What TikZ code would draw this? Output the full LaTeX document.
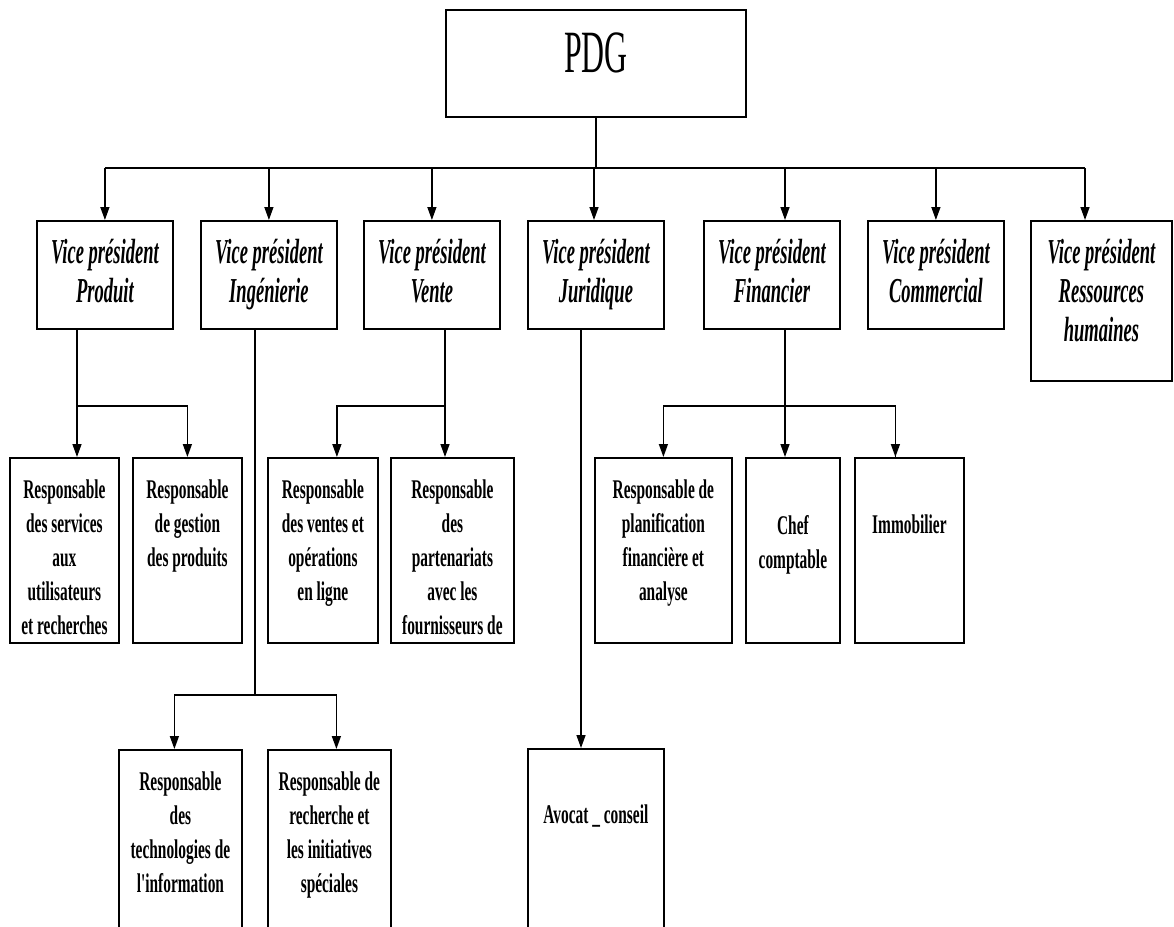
\documentclass[tikz,border=0pt]{standalone}
\usepackage{fontspec}
\setmainfont{Liberation Serif}
\newfontfamily\vpfont{Liberation Serif}[FakeStretch=0.53]
\newfontfamily\rfont{Liberation Serif}[FakeStretch=0.57]
\newfontfamily\pdgfont{Liberation Serif}[FakeStretch=0.53]
\usetikzlibrary{arrows.meta}
\tikzset{
  box/.style={draw=black, line width=1.8pt, anchor=north west, inner sep=0pt, fill=white},
  pdgtext/.style={anchor=north, inner sep=0pt, font={\pdgfont\fontsize{60}{66}\selectfont}},
  vptext/.style={anchor=north, align=center, inner sep=0pt, font={\vpfont\bfseries\itshape\fontsize{35}{39}\selectfont}},
  rtext/.style={anchor=north, align=center, inner sep=0pt, font={\rfont\bfseries\fontsize{27}{34}\selectfont}},
  link/.style={line width=1.4pt, draw=black},
  arr/.style={link, -{Triangle[width=9pt,length=13pt]}},
}
\begin{document}
\begin{tikzpicture}[x=1pt,y=-1pt]
\useasboundingbox (0,0) rectangle (1174,926);
\fill[white] (0,0) rectangle (1174,926);
\clip (0,0) rectangle (1174,926);

% top
\node[box, minimum width=300pt, minimum height=107pt] (pdg) at (445,9) {};
\node[pdgtext] (pdg-t) at ([yshift=-24pt]pdg.north) {PDG};

% vice presidents
\node[box, minimum width=136pt, minimum height=108pt] (vpA) at (36,220) {};
\node[box, minimum width=136pt, minimum height=108pt] (vpB) at (200,220) {};
\node[box, minimum width=136pt, minimum height=108pt] (vpC) at (363,220) {};
\node[box, minimum width=136pt, minimum height=108pt] (vpD) at (527,220) {};
\node[box, minimum width=136pt, minimum height=108pt] (vpE) at (703,220) {};
\node[box, minimum width=136pt, minimum height=108pt] (vpF) at (867,220) {};
\node[box, minimum width=141pt, minimum height=160pt] (vpG) at (1030,220) {};
\node[vptext] (vpA-t) at ([yshift=-19pt]vpA.north) {Vice président\\Produit};
\node[vptext] (vpB-t) at ([yshift=-19pt]vpB.north) {Vice président\\Ingénierie};
\node[vptext] (vpC-t) at ([yshift=-19pt]vpC.north) {Vice président\\Vente};
\node[vptext] (vpD-t) at ([yshift=-19pt]vpD.north) {Vice président\\Juridique};
\node[vptext] (vpE-t) at ([yshift=-19pt]vpE.north) {Vice président\\Financier};
\node[vptext] (vpF-t) at ([yshift=-19pt]vpF.north) {Vice président\\Commercial};
\node[vptext] (vpG-t) at ([yshift=-19pt]vpG.north) {Vice président\\Ressources\\humaines};

% second row
\node[box, minimum width=109pt, minimum height=185pt] (rA) at (9,457) {};
\node[box, minimum width=109pt, minimum height=185pt] (rB) at (132,457) {};
\node[box, minimum width=110pt, minimum height=185pt] (rC) at (267,457) {};
\node[box, minimum width=123pt, minimum height=185pt] (rD) at (390,457) {};
\node[box, minimum width=137pt, minimum height=185pt] (rE) at (594,457) {};
\node[box, minimum width=94pt, minimum height=185pt] (rF) at (745,457) {};
\node[box, minimum width=109pt, minimum height=185pt] (rG) at (854,457) {};
\node[rtext] (rA-t) at ([yshift=-23pt]rA.north) {Responsable\\des services\\aux\\utilisateurs\\et recherches};
\node[rtext] (rB-t) at ([yshift=-23pt]rB.north) {Responsable\\de gestion\\des produits};
\node[rtext] (rC-t) at ([yshift=-23pt]rC.north) {Responsable\\des ventes et\\opérations\\en ligne};
\node[rtext] (rD-t) at ([yshift=-23pt]rD.north) {Responsable\\des\\partenariats\\avec les\\fournisseurs de};
\node[rtext] (rE-t) at ([yshift=-23pt]rE.north) {Responsable de\\planification\\financière et\\analyse};
\node[rtext] (rF-t) at ([yshift=-58pt]rF.north) {Chef\\comptable};
\node[rtext] (rG-t) at ([yshift=-58pt]rG.north) {Immobilier};

% third row
\node[box, minimum width=123pt, minimum height=220pt] (tA) at (118,749) {};
\node[box, minimum width=123pt, minimum height=220pt] (tB) at (267,749) {};
\node[box, minimum width=136pt, minimum height=220pt] (av) at (527,748) {};
\node[rtext] (tA-t) at ([yshift=-23pt]tA.north) {Responsable\\des\\technologies de\\l'information};
\node[rtext] (tB-t) at ([yshift=-23pt]tB.north) {Responsable de\\recherche et\\les initiatives\\spéciales};
\node[rtext] (av-t) at ([yshift=-57pt]av.north) {Avocat \_ conseil};

% junctions
\coordinate (bus) at (594,168);
\coordinate (busR) at (1085,168);
\coordinate (jA) at (77,406);
\coordinate (jB) at (255,695);
\coordinate (jC) at (445,406);
\coordinate (jD) at (581,406);
\coordinate (jE) at (785,406);

% PDG to vice presidents
\draw[link] (pdg.south) -- (pdg.south |- bus);
\draw[link] (vpA.north |- bus) -- (busR);
\draw[arr] (vpA.north |- bus) -- (vpA.north);
\draw[arr] (vpB.north |- bus) -- (vpB.north);
\draw[arr] (vpC.north |- bus) -- (vpC.north);
\draw[arr] (bus) -- (vpD.north -| bus);
\draw[arr] (jE |- bus) -- (vpE.north -| jE);
\draw[arr] (vpF.north |- bus) -- (vpF.north);
\draw[arr] (busR) -- (vpG.north -| busR);

% Produit
\draw[link] (vpA.south -| jA) -- (jA);
\draw[arr] (jA) -- (rA.north -| jA);
\draw[arr] (jA) -| (rB.north);

% Vente
\draw[link] (vpC.south -| jC) -- (jC);
\draw[arr] (jC) -| ([xshift=14pt]rC.north);
\draw[arr] (jC) -- (rD.north -| jC);

% Financier
\draw[arr] (vpE.south -| jE) -- (rF.north -| jE);
\draw[link] (jE) -| ([xshift=-14pt]rG.north);
\draw[arr] ([xshift=-14pt]rG.north |- jE) -- ([xshift=-14pt]rG.north);
\draw[arr] (jE) -| (rE.north);

% Ingenierie
\draw[link] (vpB.south -| jB) -- (jB);
\draw[arr] (jB) -| ([xshift=-6pt]tA.north);
\draw[arr] (jB) -| ([xshift=7pt]tB.north);

% Juridique
\draw[arr] (vpD.south -| jD) -- (av.north -| jD);
\end{tikzpicture}
\end{document}
